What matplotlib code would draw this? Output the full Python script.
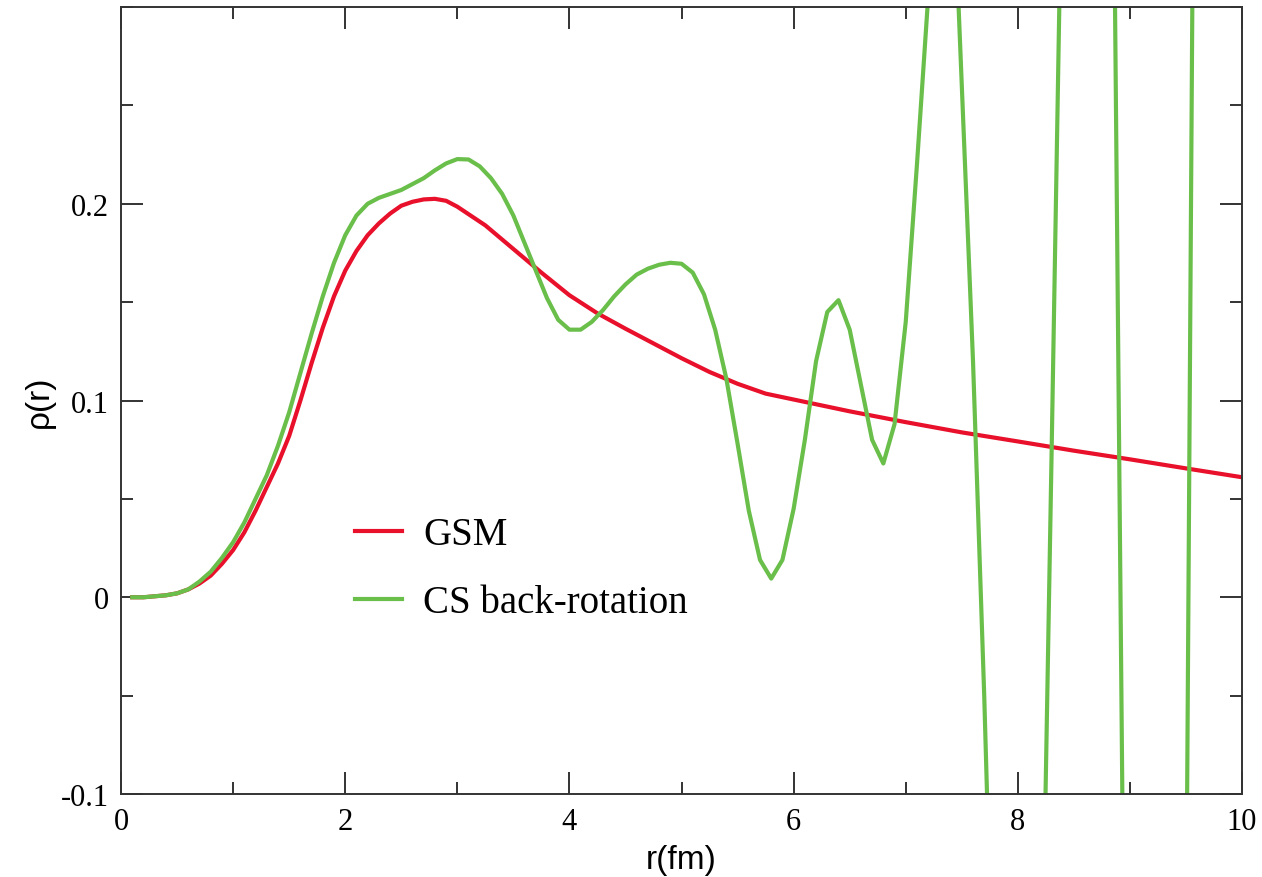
import matplotlib
matplotlib.use('Agg')
import matplotlib.pyplot as plt
from matplotlib.ticker import MultipleLocator

# GSM density (smooth)
r_gsm = [0.1, 0.2, 0.3, 0.4, 0.5, 0.6, 0.7, 0.8, 0.9, 1.0,
         1.1, 1.2, 1.3, 1.4, 1.5, 1.6, 1.7, 1.8, 1.9, 2.0,
         2.1, 2.2, 2.3, 2.4, 2.5, 2.6, 2.7, 2.8, 2.9, 3.0,
         3.25, 3.5, 3.75, 4.0, 4.25, 4.5, 4.75, 5.0, 5.25, 5.5,
         5.75, 6.0, 6.5, 7.0, 7.5, 8.0, 8.5, 9.0, 9.5, 10.0]
rho_gsm = [0.0, 0.0, 0.0005, 0.001, 0.002, 0.004, 0.007, 0.011, 0.017, 0.024,
           0.033, 0.044, 0.056, 0.068, 0.082, 0.100, 0.119, 0.137, 0.153, 0.166,
           0.176, 0.184, 0.190, 0.195, 0.199, 0.201, 0.2022, 0.2025, 0.2015, 0.1985,
           0.189, 0.177, 0.165, 0.1535, 0.1443, 0.1365, 0.129, 0.1215, 0.1145, 0.1085,
           0.1035, 0.1005, 0.0945, 0.089, 0.0838, 0.0792, 0.0745, 0.0701, 0.0655, 0.061]

# CS back-rotation density, step 0.1
r_cs = [round(0.1 * i, 1) for i in range(1, 101)]
rho_cs = [0.0, 0.0, 0.0005, 0.001, 0.002, 0.004, 0.008, 0.013, 0.020, 0.028,
          0.038, 0.050, 0.062, 0.077, 0.094, 0.114, 0.134, 0.153, 0.170, 0.184,
          0.194, 0.200, 0.203, 0.205, 0.207, 0.210, 0.213, 0.217, 0.2205, 0.2227,
          0.2225, 0.219, 0.213, 0.205, 0.194, 0.180, 0.166, 0.152, 0.141, 0.136,
          0.136, 0.140, 0.146, 0.153, 0.159, 0.164, 0.167, 0.169, 0.170, 0.1695,
          0.165, 0.154, 0.136, 0.111, 0.078, 0.044, 0.019, 0.0095, 0.019, 0.045,
          0.080, 0.120, 0.145, 0.151, 0.136, 0.108, 0.080, 0.068, 0.088, 0.140,
          0.220, 0.305, 0.38, 0.40, 0.26, 0.12, -0.05, -0.25, -0.35, -0.40,
          -0.38, -0.25, 0.07, 0.40, 0.60, 0.75, 0.80, 0.71, 0.097, -0.52,
          -0.80, -0.90, -0.80, -0.50, -0.187, 0.68, 1.2, 1.5, 1.6, 1.5]

fig = plt.figure(figsize=(12.62, 8.78), dpi=100)
ax = fig.add_axes([0.0959, 0.0945, 0.8883, 0.8964])

ax.plot(r_gsm, rho_gsm, color='#e8102a', lw=3.0, label='GSM')
ax.plot(r_cs, rho_cs, color='#6abf4b', lw=3.0, label='CS back-rotation')

ax.set_xlim(0, 10)
ax.set_ylim(-0.1, 0.3)
ax.xaxis.set_minor_locator(MultipleLocator(1))
ax.yaxis.set_minor_locator(MultipleLocator(0.05))
ax.set_yticks([-0.1, 0, 0.1, 0.2])
ax.set_yticklabels(['-0.1', '0', '0.1', '0.2'])
ax.set_xticks([0, 2, 4, 6, 8, 10])
ax.set_xticklabels(['0', '2', '4', '6', '8', '10'])

ax.tick_params(which='both', direction='in', top=True, right=True, color='#333333',
               width=1.4, labelsize=22, pad=9)
ax.tick_params(which='major', length=16)
ax.tick_params(which='minor', length=8.5)
for lbl in ax.get_xticklabels() + ax.get_yticklabels():
    lbl.set_family('Liberation Serif')
for sp in ax.spines.values():
    sp.set_color('#333333')
    sp.set_linewidth(1.4)

ax.set_xlabel('r(fm)', fontsize=24, family='Liberation Sans', labelpad=6)
ax.set_ylabel('ρ(r)', fontsize=24, family='Liberation Sans', labelpad=4)

ax.legend(loc='center left', bbox_to_anchor=(0.2087, 0.286), frameon=False,
          prop={'family': 'Liberation Serif', 'size': 28}, handlelength=1.2,
          handletextpad=0.55, labelspacing=0.8, borderpad=0, borderaxespad=0)

fig.savefig('out.png', dpi=100)
